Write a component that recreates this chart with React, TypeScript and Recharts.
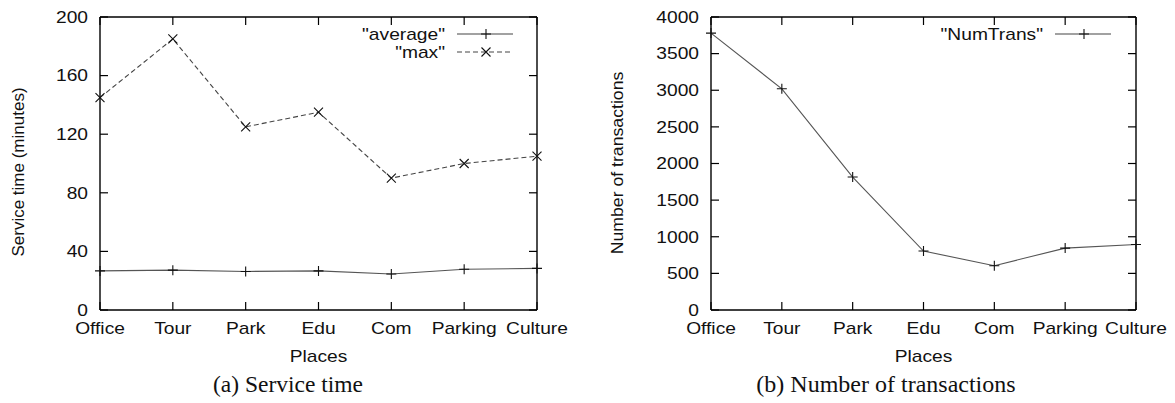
import { LineChart, Line, XAxis, YAxis, Legend } from 'recharts'

const places = ['Office', 'Tour', 'Park', 'Edu', 'Com', 'Parking', 'Culture']
const avgTime = [26.7, 27.2, 26.3, 26.7, 24.6, 27.8, 28.4]
const maxTime = [145, 185, 125, 135, 90, 100, 105]
const numTrans = [3780, 3020, 1815, 805, 605, 845, 895]

const timeTicks = [0, 40, 80, 120, 160, 200]
const transTicks = [0, 500, 1000, 1500, 2000, 2500, 3000, 3500, 4000]

const timeData = places.map((p, i) => ({ place: p, average: avgTime[i], max: maxTime[i] }))
const transData = places.map((p, i) => ({ place: p, num: numTrans[i] }))

const SANS = '"Liberation Sans", Arial, sans-serif'
const SERIF = '"Liberation Serif", "Times New Roman", serif'
const SX = 1.2

const Plus = ({ cx, cy }: any) =>
  cx == null ? null : (
    <path d={`M${cx - 5},${cy}H${cx + 5}M${cx},${cy - 5}V${cy + 5}`} stroke="#111" strokeWidth={1.1} fill="none" />
  )

const Cross = ({ cx, cy }: any) =>
  cx == null ? null : (
    <path
      d={`M${cx - 4.5},${cy - 4.5}L${cx + 4.5},${cy + 4.5}M${cx - 4.5},${cy + 4.5}L${cx + 4.5},${cy - 4.5}`}
      stroke="#111"
      strokeWidth={1.1}
      fill="none"
    />
  )

const BottomTick = ({ x, y, payload }: any) => (
  <g>
    <line x1={x} y1={y} x2={x} y2={y - 8} stroke="#000" strokeWidth={1.2} />
    <text
      transform={`translate(${x},${y + 24}) scale(${SX},1)`}
      textAnchor="middle"
      fontFamily={SANS}
      fontSize={16}
      fill="#111"
    >
      {payload.value}
    </text>
  </g>
)

const TopTick = ({ x, y }: any) => <line x1={x} y1={y} x2={x} y2={y + 8} stroke="#000" strokeWidth={1.2} />

const LeftTick = ({ x, y, payload }: any) => (
  <g>
    <line x1={x} y1={y} x2={x + 8} y2={y} stroke="#000" strokeWidth={1.2} />
    <text
      transform={`translate(${x - 12},${y + 5.8}) scale(${SX},1)`}
      textAnchor="end"
      fontFamily={SANS}
      fontSize={16}
      fill="#111"
    >
      {payload.value}
    </text>
  </g>
)

const RightTick = ({ x, y }: any) => <line x1={x} y1={y} x2={x - 8} y2={y} stroke="#000" strokeWidth={1.2} />

const markerOf: Record<string, string> = { average: 'plus', max: 'cross', num: 'plus' }

const KeyBox = ({ payload }: any) => (
  <svg width={300} height={44} style={{ display: 'block', overflow: 'visible' }}>
    {(payload || []).map((e: any, i: number) => {
      const cy = 14 + i * 18
      return (
        <g key={e.dataKey}>
          <text
            transform={`translate(208,${cy + 5.8}) scale(${SX},1)`}
            textAnchor="end"
            fontFamily={SANS}
            fontSize={16}
            fill="#111"
          >
            {e.value}
          </text>
          <line
            x1={220}
            x2={276}
            y1={cy}
            y2={cy}
            stroke="#444"
            strokeWidth={1.1}
            strokeDasharray={markerOf[e.dataKey] === 'cross' ? '5 3' : undefined}
          />
          {markerOf[e.dataKey] === 'cross' ? <Cross cx={249} cy={cy} /> : <Plus cx={249} cy={cy} />}
        </g>
      )
    })}
  </svg>
)

const axisLine = { stroke: '#000', strokeWidth: 1.4 }

export default function App() {
  return (
    <div style={{ position: 'absolute', left: 0, top: 0, width: 1175, height: 403, background: '#fff' }}>
      <div style={{ position: 'absolute', left: 0, top: 0 }}>
        <LineChart width={577} height={340} data={timeData} margin={{ top: 0, right: 0, bottom: 0, left: 0 }}>
          <XAxis dataKey="place" height={30} tickSize={0} tickMargin={0} tickLine={false} axisLine={axisLine} tick={<BottomTick />} interval={0} padding={{ left: 0, right: 0 }} />
          <XAxis xAxisId="top" orientation="top" dataKey="place" height={17} tickSize={0} tickMargin={0} tickLine={false} axisLine={axisLine} tick={<TopTick />} interval={0} padding={{ left: 0, right: 0 }} />
          <YAxis width={100} domain={[0, 200]} ticks={timeTicks} tickSize={0} tickMargin={0} tickLine={false} axisLine={axisLine} tick={<LeftTick />} interval={0} />
          <YAxis yAxisId="right" orientation="right" width={40} domain={[0, 200]} ticks={timeTicks} allowDataOverflow tickSize={0} tickMargin={0} tickLine={false} axisLine={axisLine} tick={<RightTick />} interval={0} />
          <Legend layout="vertical" align="center" verticalAlign="middle" wrapperStyle={{ left: 237, top: 20, width: 300 }} content={<KeyBox />} />
          <Line dataKey="average" name={'"average"'} stroke="#555" strokeWidth={1.1} dot={<Plus />} activeDot={false} isAnimationActive={false} />
          <Line dataKey="max" name={'"max"'} stroke="#444" strokeWidth={1.1} strokeDasharray="5 3" dot={<Cross />} activeDot={false} isAnimationActive={false} />
        </LineChart>
      </div>
      <div style={{ position: 'absolute', left: 600, top: 0 }}>
        <LineChart width={574} height={340} data={transData} margin={{ top: 0, right: 0, bottom: 0, left: 0 }}>
          <XAxis dataKey="place" height={30} tickSize={0} tickMargin={0} tickLine={false} axisLine={axisLine} tick={<BottomTick />} interval={0} padding={{ left: 0, right: 0 }} />
          <XAxis xAxisId="top" orientation="top" dataKey="place" height={17} tickSize={0} tickMargin={0} tickLine={false} axisLine={axisLine} tick={<TopTick />} interval={0} padding={{ left: 0, right: 0 }} />
          <YAxis width={111} domain={[0, 4000]} ticks={transTicks} tickSize={0} tickMargin={0} tickLine={false} axisLine={axisLine} tick={<LeftTick />} interval={0} />
          <YAxis yAxisId="right" orientation="right" width={38} domain={[0, 4000]} ticks={transTicks} allowDataOverflow tickSize={0} tickMargin={0} tickLine={false} axisLine={axisLine} tick={<RightTick />} interval={0} />
          <Legend layout="vertical" align="center" verticalAlign="middle" wrapperStyle={{ left: 235, top: 20, width: 300 }} content={<KeyBox />} />
          <Line dataKey="num" name={'"NumTrans"'} stroke="#555" strokeWidth={1.1} dot={<Plus />} activeDot={false} isAnimationActive={false} />
        </LineChart>
      </div>
      <svg width={1175} height={403} style={{ position: 'absolute', left: 0, top: 0, pointerEvents: 'none' }}>
        <text transform={`translate(18.5,172) rotate(-90)`} textAnchor="middle" dominantBaseline="central" fontFamily={SANS} fontSize={17} fill="#111">
          Service time (minutes)
        </text>
        <text transform={`translate(617,163) rotate(-90) scale(1.04,1)`} textAnchor="middle" dominantBaseline="central" fontFamily={SANS} fontSize={17} fill="#111">
          Number of transactions
        </text>
        <text transform={`translate(318.5,362) scale(${SX},1)`} textAnchor="middle" fontFamily={SANS} fontSize={16} fill="#111">
          Places
        </text>
        <text transform={`translate(923.5,362) scale(${SX},1)`} textAnchor="middle" fontFamily={SANS} fontSize={16} fill="#111">
          Places
        </text>
        <text x={288} y={392} textAnchor="middle" fontFamily={SERIF} fontSize={23.5} fill="#111">
          (a) Service time
        </text>
        <text x={886} y={392} textAnchor="middle" fontFamily={SERIF} fontSize={24} fill="#111">
          (b) Number of transactions
        </text>
      </svg>
    </div>
  )
}
